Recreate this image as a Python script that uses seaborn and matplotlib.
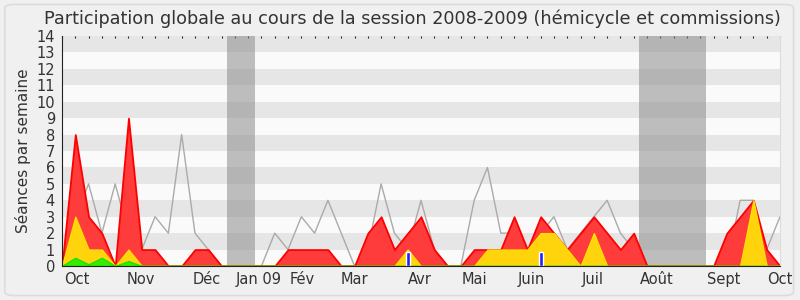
import numpy as np
import pandas as pd
import matplotlib
matplotlib.use("Agg")
import matplotlib.pyplot as plt
from matplotlib.patches import FancyBboxPatch
import seaborn as sns

# ---- data (one value per week, week index 0..54) ----
weeks = list(range(55))
presence_total = [0, 8, 3, 2, 0, 9, 1, 1, 0, 0, 1, 1, 0, 0, 0, 0, 0, 1, 1, 1,
                  1, 0, 0, 2, 3, 1, 2, 3, 1, 0, 0, 1, 1, 1, 3, 1, 3, 2, 1, 2,
                  3, 2, 1, 2, 0, 0, 0, 0, 0, 0, 2, 3, 4, 1, 0]
presence_yellow = [0, 3, 1, 1, 0, 1, 0, 0, 0, 0, 0, 0, 0, 0, 0, 0, 0, 0, 0, 0,
                   0, 0, 0, 0, 0, 0, 1, 0, 0, 0, 0, 0, 1, 1, 1, 1, 2, 2, 1, 0,
                   2, 0, 0, 0, 0, 0, 0, 0, 0, 0, 0, 0, 4, 0, 0]
presence_green = [0, 0.5, 0.1, 0.5, 0, 0.3, 0, 0, 0, 0, 0, 0, 0, 0, 0, 0, 0, 0, 0, 0,
                  0, 0, 0, 0, 0, 0, 0, 0, 0, 0, 0, 0, 0, 0, 0, 0, 0, 0, 0, 0,
                  0, 0, 0, 0, 0, 0, 0, 0, 0, 0, 0, 0, 0, 0, 0]
max_line = [0, 3, 5, 2, 5, 2, 1, 3, 2, 8, 2, 1, 0, 0, 0, 0, 2, 1, 3, 2,
            4, 2, 0, 1, 5, 2, 1, 4, 1, 0, 0, 4, 6, 2, 2, 1, 2, 3, 1, 2,
            3, 4, 2, 1, 0, 0, 0, 0, 0, 0, 0, 4, 4, 1, 3]
blue_weeks = [26, 36]
blue_values = [0.85, 0.85]
vacations = [(12.4, 14.5), (43.4, 48.4)]
month_labels = ["Oct", "Nov", "Déc", "Jan 09", "Fév", "Mar", "Avr", "Mai",
                "Juin", "Juil", "Août", "Sept", "Oct"]
month_pos = [1.15, 5.9, 10.9, 14.8, 18.1, 22.0, 26.9, 31.0, 35.3, 39.9, 44.7,
             49.8, 54.0]

df = pd.DataFrame({"week": weeks, "max": max_line, "total": presence_total,
                   "yellow": presence_yellow, "green": presence_green})

sns.set_style("white")
plt.rcParams["font.family"] = ["DejaVu Sans"]

fig = plt.figure(figsize=(8, 3), dpi=100)
fig.patch.set_facecolor("#f0f0f0")
fig.patches.append(FancyBboxPatch((0.006, 0.015), 0.986, 0.97,
                                  boxstyle="round,pad=0,rounding_size=0.012",
                                  transform=fig.transFigure, facecolor="none",
                                  edgecolor="#dcdcdc", linewidth=1.2))
ax = fig.add_axes([0.0775, 0.1133, 0.8975, 0.7667])
ax.set_facecolor("#fafafa")

# horizontal stripes
for k in range(14):
    if k % 2 == 1:
        ax.axhspan(k, k + 1, color="#e6e6e6", zorder=0, lw=0)

# vacation bands
for a, b in vacations:
    ax.axvspan(a, b, color="#8c8c8c", alpha=0.55, zorder=1, lw=0)

sns.lineplot(data=df, x="week", y="max", ax=ax, color="#aaaaaa", lw=1,
             zorder=2, legend=False)
ax.fill_between(df["week"], 0, df["total"], facecolor="#ff3c3c", edgecolor="#ff0000",
                lw=1.3, zorder=3)
ax.fill_between(df["week"], 0, df["yellow"], facecolor="#ffd40c", edgecolor="#ffe000",
                lw=1.0, zorder=4)
ax.fill_between(df["week"], 0, df["green"], facecolor="#33ee00", edgecolor="#22dd00",
                lw=1.0, zorder=5)
ax.bar(blue_weeks, blue_values, width=0.3, color="#2222ee", zorder=6)

ax.set_xlim(0, 54)
ax.set_ylim(0, 14)
ax.set_yticks(range(15))
ax.xaxis.remove_overlapping_locs = False
ax.set_xticks(weeks)
ax.set_xticklabels([])
ax.set_xticks(month_pos, minor=True)
ax.set_xticklabels(month_labels, minor=True)
ax.tick_params(axis="x", which="minor", length=0, pad=4, labelsize=10.5, colors="#333333")
ax.tick_params(axis="x", which="major", length=4, width=0.8, color="#222222", direction="out")
ax.tick_params(axis="y", length=4, width=0.8, color="#222222", labelsize=10.5,
               labelcolor="#333333", pad=1)
for lab in ax.get_xticklabels(minor=True):
    lab.set_clip_on(False)

top = ax.secondary_xaxis("top")
top.set_xticks(weeks)
top.set_xticklabels([])
top.tick_params(length=1.5, width=0.8, color="#222222", direction="in")
top.spines["top"].set_visible(False)

ax.spines["left"].set_color("#222222")
ax.spines["bottom"].set_color("#222222")
ax.spines["top"].set_visible(False)
ax.spines["right"].set_color("#dddddd")
for s in ax.spines.values():
    s.set_zorder(10)

ax.set_xlabel("")
ax.set_ylabel("Séances par semaine", fontsize=11, color="#333333", labelpad=4)
fig.suptitle("Participation globale au cours de la session 2008-2009 (hémicycle et commissions)",
             x=0.515, y=0.968, fontsize=12.7, color="#333333")

fig.savefig("out.png", dpi=100, facecolor=fig.get_facecolor())
